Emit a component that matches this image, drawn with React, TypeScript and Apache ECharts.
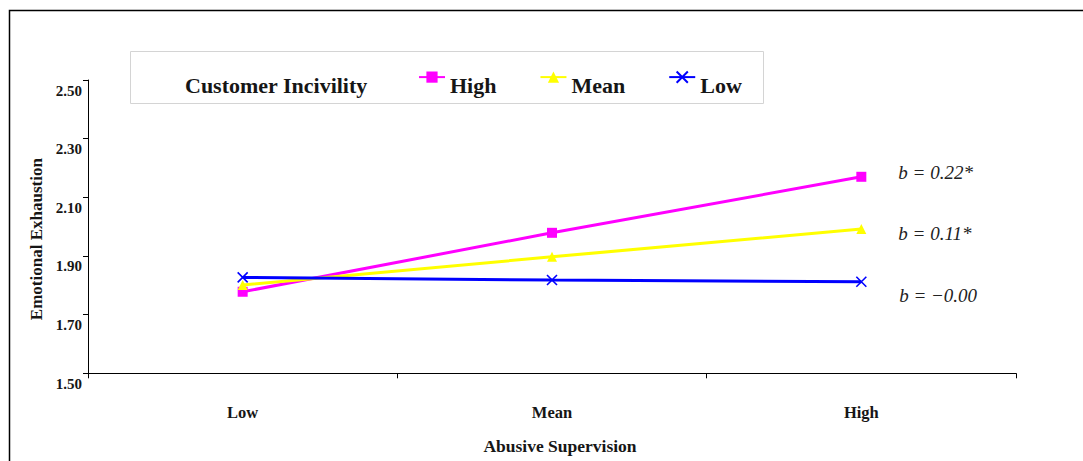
import React, { useEffect, useRef } from "react";
import * as echarts from "echarts";

const categories = ["Low", "Mean", "High"];
const seriesNames = ["High", "Mean", "Low"];
const highValues = [1.778, 1.979, 2.17];
const meanValues = [1.801, 1.897, 1.992];
const lowValues = [1.827, 1.818, 1.812];
const slopeLabels = ["b = 0.22*", "b = 0.11*", "b = \u22120.00"];
const legendTitle = "Customer Incivility";
const xAxisTitle = "Abusive Supervision";
const yAxisTitle = "Emotional Exhaustion";
const yMin = 1.5;
const yMax = 2.5;
const yStep = 0.2;

const FONT = '"Liberation Serif", "Times New Roman", serif';
const TEXT = "#161616";

export default function App() {
  const ref = useRef<HTMLDivElement>(null);
  useEffect(() => {
    if (!ref.current) return;
    const chart = echarts.init(ref.current, undefined, { renderer: "svg" });
    const colors = ["#FF00FF", "#FFFF00", "#0000FF"];
    const symbols = ["rect", "triangle", "path://M0,0L10,10M10,0L0,10"];
    const values = [highValues, meanValues, lowValues];
    const labelOffsets = [-4, 5, 14];

    const series = seriesNames.map((name, i) => ({
      type: "line",
      name,
      data: values[i].map((v, j) =>
        j === values[i].length - 1
          ? {
              value: v,
              label: {
                show: true,
                formatter: slopeLabels[i],
                position: "right",
                distance: 32,
                offset: [0, labelOffsets[i]],
                fontFamily: FONT,
                fontStyle: "italic",
                fontSize: 19,
                color: "#222",
              },
            }
          : v
      ),
      symbol: symbols[i],
      symbolSize: 10,
      showAllSymbol: true,
      lineStyle: { color: colors[i], width: 3 },
      itemStyle: {
        color: colors[i],
        borderColor: colors[i],
        borderWidth: i === 2 ? 1.6 : 0,
      },
      emphasis: { disabled: true },
      z: 2 + i,
    }));

    chart.setOption({
      animation: false,
      backgroundColor: "#fff",
      grid: { left: 88, top: 80, right: 67, bottom: 87.7, containLabel: false },
      legend: {
        left: 418,
        top: 70.5,
        padding: 0,
        itemGap: 43,
        itemWidth: 26,
        itemHeight: 14,
        data: seriesNames,
        selectedMode: false,
        formatter: (name: string) => `{t|${name}}`,
        textStyle: {
          fontFamily: FONT,
          fontWeight: "bold",
          fontSize: 22,
          color: TEXT,
          rich: {
            t: {
              fontFamily: FONT,
              fontWeight: "bold",
              fontSize: 22,
              color: TEXT,
              padding: [16, 0, 0, 0],
            },
          },
        },
      },
      xAxis: {
        type: "category",
        data: categories,
        boundaryGap: true,
        name: xAxisTitle,
        nameLocation: "middle",
        nameGap: 64,
        nameTextStyle: {
          fontFamily: FONT,
          fontWeight: "bold",
          fontSize: 17.5,
          color: TEXT,
          padding: [0, 0, 0, 16],
        },
        axisLine: { lineStyle: { color: "#000", width: 1 } },
        axisTick: { show: true, length: 5, lineStyle: { color: "#000" } },
        axisLabel: {
          margin: 31,
          fontFamily: FONT,
          fontWeight: "bold",
          fontSize: 16.5,
          color: TEXT,
        },
        splitLine: { show: false },
      },
      yAxis: {
        type: "value",
        min: yMin,
        max: yMax,
        interval: yStep,
        name: yAxisTitle,
        nameLocation: "middle",
        nameRotate: 90,
        nameGap: 36,
        nameTextStyle: {
          fontFamily: FONT,
          fontWeight: "bold",
          fontSize: 17,
          color: TEXT,
          padding: [0, 25, 0, 0],
        },
        axisLine: { show: true, lineStyle: { color: "#000", width: 1 } },
        axisTick: { show: true, length: 5, lineStyle: { color: "#000" } },
        axisLabel: {
          margin: 6,
          fontFamily: FONT,
          fontWeight: "bold",
          fontSize: 15,
          color: TEXT,
          verticalAlign: "top",
          padding: [3, 0, 0, 0],
          formatter: (v: number) => v.toFixed(2),
        },
        splitLine: { show: false },
      },
      graphic: [
        {
          type: "polyline",
          shape: { points: [[9.5, 461], [9.5, 10.5], [1083, 10.5]] },
          style: { stroke: "#000", lineWidth: 1.5, fill: null },
          silent: true,
          z: 0,
        },
        {
          type: "rect",
          shape: { x: 130.5, y: 51.5, width: 633, height: 52 },
          style: { stroke: "#d4d4d4", lineWidth: 1, fill: "#fff" },
          silent: true,
          z: 0,
        },
        {
          type: "text",
          x: 185,
          y: 85,
          style: {
            text: legendTitle,
            fontFamily: FONT,
            fontWeight: "bold",
            fontSize: 22,
            fill: TEXT,
            verticalAlign: "middle",
            align: "left",
          },
          silent: true,
          z: 1,
        },
      ],
      series,
    });
    return () => chart.dispose();
  }, []);
  return (
    <div
      ref={ref}
      style={{ position: "fixed", left: 0, top: 0, width: 1083, height: 461, background: "#fff" }}
    />
  );
}
